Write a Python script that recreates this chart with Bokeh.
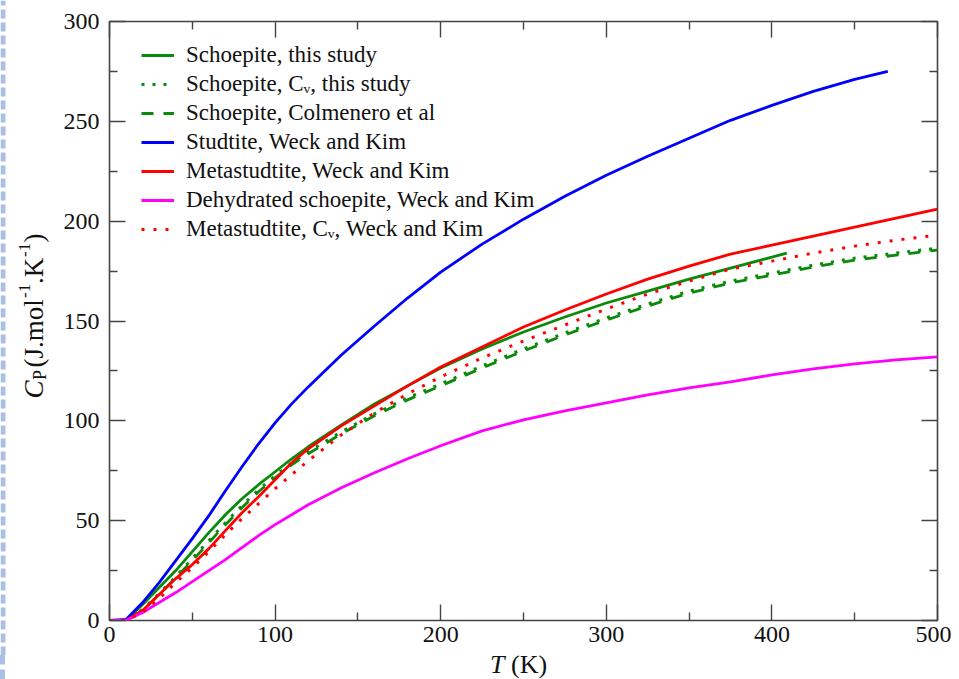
import math
from bokeh.plotting import figure
from bokeh.models import Range1d, LinearAxis, Legend, LegendItem, FixedTicker, Div
from bokeh.core.properties import value
from bokeh.layouts import row, column
from bokeh.embed import file_html
from bokeh.resources import INLINE

# ---------------- data ----------------
T = [0, 10, 20, 30, 40, 50, 60, 70, 80, 90, 100, 110, 120, 140, 160, 180, 200,
     225, 250, 275, 300, 325, 350, 375, 400, 425, 450, 475, 500]

T_studtite = T[:27] + [470]
cp_studtite = [0, 0.5, 9, 19, 30, 41, 52.5, 65, 77, 88.5, 99, 108.5, 117, 133, 147.5,
               161.5, 174.5, 188.5, 201, 212.5, 223, 232.5, 241.5, 250.5, 258, 265,
               271, 275]

T_schoepite = T[:25] + [409]
cp_schoepite = [0, 0, 8, 16.5, 25, 34.5, 44, 53, 61, 68, 74.5, 81, 87, 98, 108.5,
                117.5, 126.5, 136, 144.5, 152, 159, 165, 171, 176.5, 182, 184]

cv_schoepite = [0, 0, 5.5, 13.5, 22, 31, 40, 49, 57.5, 65.5, 72.5, 79, 84.5, 94.5,
                103.5, 111.5, 118.5, 127.5, 136, 144, 151.5, 158.5, 165, 170, 174,
                178, 181.5, 184, 186.5]

cp_colmenero = [0, 0, 5, 13, 21.5, 30, 39, 48, 56.5, 64.5, 71.5, 78, 83.5, 93.5,
                102.5, 110.5, 117.5, 126.5, 135, 143, 150.5, 157.5, 164, 169, 173,
                177, 180.5, 183, 185.5]

cp_metastudtite = [0, 0, 5, 13, 21, 28, 36, 45, 54, 62, 70.5, 79, 86, 97.5, 107.5,
                   117.5, 127, 137, 147, 155.5, 163.5, 171, 177.5, 183.5, 188, 192.5,
                   197, 201.5, 206]

cp_dehydrated = [0, 0, 4, 9, 14, 19.5, 25, 30.5, 36.5, 42.5, 48, 53, 58, 66.5, 74, 81,
                 87.5, 95, 100.5, 105, 109, 113, 116.5, 119.5, 123, 126, 128.5, 130.5, 132]

cv_metastudtite = [0, 0, 4, 11, 19, 26.5, 34.5, 43, 51, 58.5, 66, 73, 80, 93, 104,
                   113.5, 122, 131.5, 140, 148, 156, 163.5, 170, 176, 180, 184, 187.5,
                   190.5, 193]

x_ticks = [0, 100, 200, 300, 400, 500]
x_minor = [50, 150, 250, 350, 450]
y_ticks = [0, 50, 100, 150, 200, 250, 300]
y_minor = [25, 75, 125, 175, 225, 275]

labels = ["Schoepite, this study",
          "Schoepite, C\u1d65, this study",
          "Schoepite, Colmenero et al",
          "Studtite, Weck and Kim",
          "Metastudtite, Weck and Kim",
          "Dehydrated schoepite, Weck and Kim",
          "Metastudtite, C\u1d65, Weck and Kim"]

# y-axis title pieces
ylab_text = ["C", "P", "(J.mol", "-1", ".K", "-1", ")"]
ylab_size = ["27px", "18px", "27px", "17px", "27px", "17px", "27px"]
ylab_style = ["italic", "normal", "normal", "normal", "normal", "normal", "normal"]

GREEN = "#0a8a0a"
BLUE = "#0000ff"
RED = "#ff0000"
MAGENTA = "#ff00ff"
FONT = "Liberation Serif"
STRIPE = "#a9bfe4"

PW, PH = 891, 655   # main canvas: 44 + 833 + 14, 21 + 599 + 35

# ---------------- main figure ----------------
p = figure(width=PW, height=PH, title=None,
           min_border_left=44, min_border_right=14, min_border_top=21, min_border_bottom=35,
           x_range=Range1d(0, 500), y_range=Range1d(0, 300),
           output_backend="svg", toolbar_location=None)
p.frame_align = False
p.background_fill_color = "white"
p.border_fill_color = "white"
p.outline_line_color = "#444444"
p.outline_line_width = 1.6
p.xgrid.visible = False
p.ygrid.visible = False


def style_axis(ax, ticks, minor, show_labels):
    ax.ticker = FixedTicker(ticks=ticks, minor_ticks=minor)
    ax.axis_label = None
    ax.axis_label_standoff = 0
    ax.major_tick_in = 16
    ax.major_tick_out = 0
    ax.minor_tick_in = 8
    ax.minor_tick_out = 0
    ax.major_tick_line_color = "#444444"
    ax.minor_tick_line_color = "#444444"
    ax.major_tick_line_width = 1.4
    ax.minor_tick_line_width = 1.4
    ax.axis_line_color = None
    ax.major_label_text_font = FONT
    ax.major_label_text_font_size = "24px"
    ax.major_label_text_color = "#111111"
    ax.major_label_standoff = 6
    if not show_labels:
        ax.major_label_text_alpha = 0
        ax.major_label_text_font_size = "1px"
        ax.major_label_standoff = 0


style_axis(p.xaxis[0], x_ticks, x_minor, True)
style_axis(p.yaxis[0], y_ticks, y_minor, True)
p.yaxis[0].major_label_standoff = 10

top = LinearAxis()
style_axis(top, x_ticks, x_minor, False)
p.add_layout(top, "above")
right = LinearAxis()
style_axis(right, y_ticks, y_minor, False)
p.add_layout(right, "right")

# ---------------- curves ----------------
r1 = p.line(T_schoepite, cp_schoepite, line_color=GREEN, line_width=2.8)
r2 = p.line(T, cv_schoepite, line_color=GREEN, line_width=3, line_dash="3 8")
r3 = p.line(T, cp_colmenero, line_color=GREEN, line_width=2.8, line_dash="12 10")
r4 = p.line(T_studtite, cp_studtite, line_color=BLUE, line_width=2.8)
r5 = p.line(T, cp_metastudtite, line_color=RED, line_width=2.8)
r6 = p.line(T, cp_dehydrated, line_color=MAGENTA, line_width=2.8)
r7 = p.line(T, cv_metastudtite, line_color=RED, line_width=3, line_dash="3 9")

legend = Legend(items=[LegendItem(label=l, renderers=[r]) for l, r in
                       zip(labels, [r1, r2, r3, r4, r5, r6, r7])],
                location=(32, 378), padding=0, margin=0,
                glyph_width=33, glyph_height=26, label_height=26, spacing=3,
                label_standoff=12, label_text_font=FONT, label_text_font_size="23px",
                label_text_color="#111111",
                background_fill_alpha=0, border_line_color=None)
p.add_layout(legend, "center")

# ---------------- y-axis title panel ----------------
ylab = figure(width=60, height=PH, title=None, x_range=Range1d(0, 60),
              y_range=Range1d(0, PH), x_axis_type=None, y_axis_type=None, min_border=0,
              output_backend="svg", toolbar_location=None)
ylab.frame_align = False
ylab.outline_line_color = None
ylab.line([2.5, 2.5], [0, PH], line_color=STRIPE, line_width=5, line_dash="9 4")
ylab_x = [33.5, 39.5, 33.5, 24, 33.5, 24, 33.5]
ylab_py = [398, 379.5, 367, 297.5, 283.5, 256.5, 242]   # page rows where each piece starts
for t, sz, st, xx, py in zip(ylab_text, ylab_size, ylab_style, ylab_x, ylab_py):
    ylab.text(x=[xx], y=[PH - py], text=[t], angle=math.pi / 2,
              text_font=value(FONT), text_font_size=value(sz), text_font_style=st,
              text_color="#111111", text_align="left", text_baseline="alphabetic")

# ---------------- x-axis title (HTML text) ----------------
xtitle = Div(text="<i>T</i>&nbsp;(K)", width=PW + 55, height=679 - PH, margin=0,
             styles={"font-family": FONT, "font-size": "26px", "line-height": "20px",
                     "color": "#111111", "padding-left": "485px",
                     "border-left": "5px dashed " + STRIPE, "overflow": "visible",
                     "white-space": "nowrap"})

layout = column(row(ylab, p, spacing=0), xtitle, spacing=0)
open("out.html", "w").write(file_html(layout, INLINE))
